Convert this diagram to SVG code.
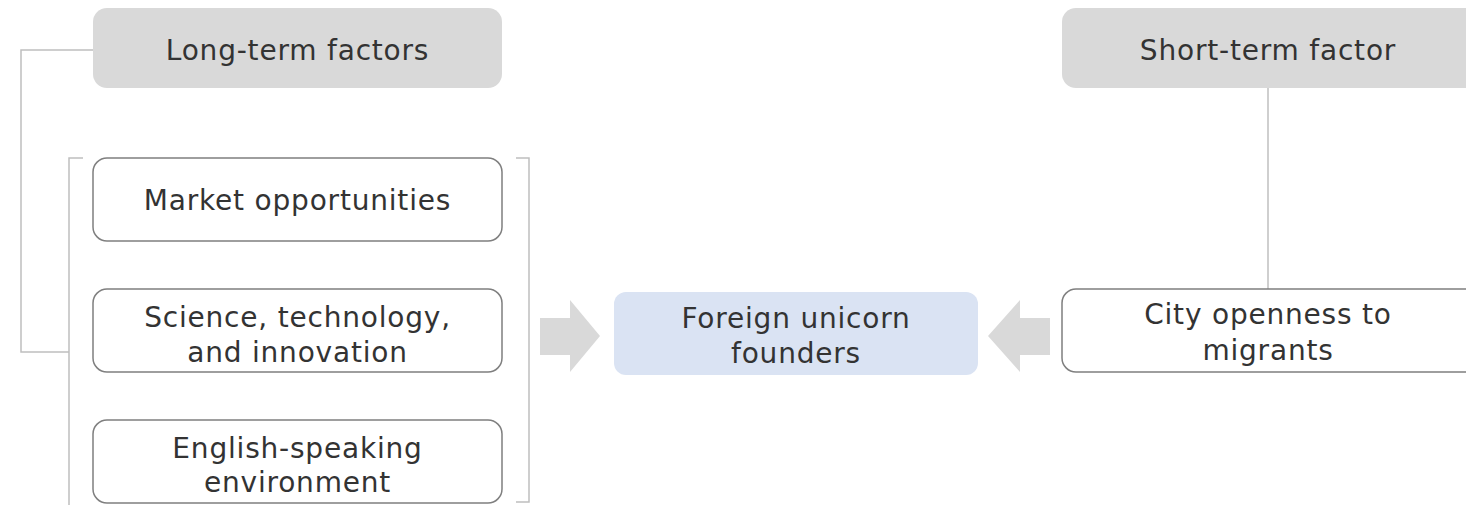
<svg xmlns="http://www.w3.org/2000/svg" width="1466" height="505" viewBox="0 0 1466 505">
<style>
.hdr{fill:#d9d9d9;stroke:none}
.box{fill:#ffffff;stroke:#7f7f7f;stroke-width:1.5}
.ctr{fill:#dae3f3;stroke:none}
.t{font-family:"DejaVu Sans","Liberation Sans",sans-serif;font-size:28px;letter-spacing:0.8px;fill:#333333;text-anchor:middle}
.ln{fill:none;stroke:#bfbfbf;stroke-width:1.5}
.arr{fill:#d9d9d9;stroke:none}
</style>
<rect width="1466" height="505" fill="#ffffff"/>
<g id="connectors">
<polyline class="ln" points="93,50 21,50 21,352 69,352"/>
<polyline class="ln" points="83,158 69,158 69,505"/>
<polyline class="ln" points="516,158 529,158 529,502 516,502"/>
<line class="ln" x1="1268" y1="88" x2="1268" y2="289"/>
<polygon class="arr" points="540,318 570,318 570,300 600,336 570,372 570,355 540,355"/>
<polygon class="arr" points="1050,318 1020,318 1020,300 988,336 1020,372 1020,355 1050,355"/>
</g>
<g id="long-term">
<rect class="hdr" x="93" y="8" width="409" height="80" rx="14"/>
<text class="t" x="297.5" y="60">Long-term factors</text>
</g>
<g id="short-term">
<rect class="hdr" x="1062" y="8" width="420" height="80" rx="14"/>
<text class="t" x="1268" y="60">Short-term factor</text>
</g>
<g id="market">
<rect class="box" x="93" y="158" width="409" height="83" rx="14"/>
<text class="t" x="297.5" y="210">Market opportunities</text>
</g>
<g id="science">
<rect class="box" x="93" y="289" width="409" height="83" rx="14"/>
<text class="t" x="297.5" y="327">Science, technology,</text>
<text class="t" x="297.5" y="362">and innovation</text>
</g>
<g id="english">
<rect class="box" x="93" y="420" width="409" height="83" rx="14"/>
<text class="t" x="297.5" y="458">English-speaking</text>
<text class="t" x="297.5" y="492">environment</text>
</g>
<g id="foreign">
<rect class="ctr" x="614" y="292" width="364" height="83" rx="12"/>
<text class="t" x="796" y="328">Foreign unicorn</text>
<text class="t" x="796" y="363">founders</text>
</g>
<g id="city">
<rect class="box" x="1062" y="289" width="420" height="83" rx="14"/>
<text class="t" x="1268" y="324">City openness to</text>
<text class="t" x="1268" y="360">migrants</text>
</g>
</svg>
